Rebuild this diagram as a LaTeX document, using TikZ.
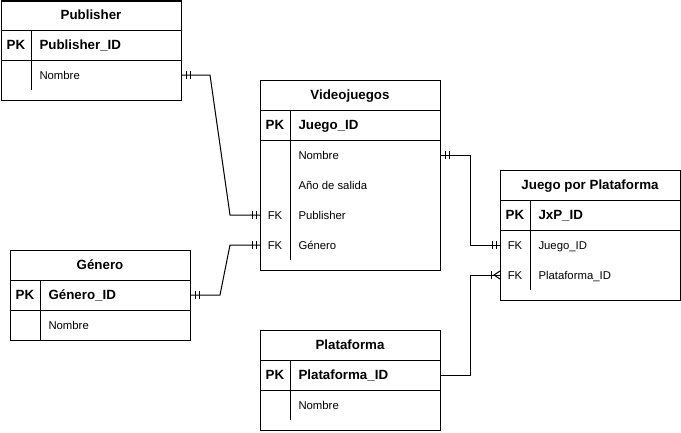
\documentclass[tikz,border=0pt]{standalone}
\usepackage{fontspec}
\setmainfont{Liberation Sans}
\usetikzlibrary{decorations.markings}
\usetikzlibrary{positioning}
\tikzset{tabla/.style = {draw, rectangle, inner sep = 0, anchor = north west}}
\tikzset{txt/.style = {inner sep = 0, text height = 6.2pt, text depth = 0pt}}
\tikzset{titulo/.style = {txt, font = \bfseries}}
\tikzset{clave/.style = {txt}}
\tikzset{campo/.style = {txt, anchor = west}}
\tikzset{campopk/.style = {campo, font = \bfseries}}
\tikzset{unouno/.style = {decoration={markings,
                                      mark=at position 3pt with {\draw (0, -3pt) -- (0, 3pt);},
                                      mark=at position 6pt with {\draw (0, -3pt) -- (0, 3pt);},
                                      mark=at position -3pt with {\draw (0, -3pt) -- (0, 3pt);},
                                      mark=at position -6pt with {\draw (0, -3pt) -- (0, 3pt);}},
                          postaction={decorate}}}
\tikzset{unomuchos/.style = {decoration={markings,
                                         mark=at position 1 with {\draw (-6.75pt, -3pt) -- (-6.75pt, 3pt);
                                                                  \draw (0, -3pt) -- (-4.5pt, 0) -- (0, 3pt);}},
                             postaction={decorate}}}

\begin{document}
\begin{tikzpicture}[x = 0.75pt, y = -0.75pt, line width = 0.75pt, font = \fontsize{8.5pt}{10.5pt}\selectfont]
      \useasboundingbox (0, 0) rectangle (681, 432);

      % Publisher
      \node [tabla, minimum width = 135pt, minimum height = 74.25pt] (publisher) at (1, 0.5) {};
      \draw (1, 30) -- (181, 30);
      \draw (1, 60) -- (181, 60);
      \draw (31, 30) -- (31, 90);
      \node [titulo] (publisher-t) at (91, 15) {Publisher};
      \node [clave, font = \bfseries] (pub-pk) at (16, 45) {PK};
      \node [campopk] (pub-id) at (39, 45) {Publisher\_ID};
      \node [campo] (pub-nombre) at (39, 75) {Nombre};

      % Videojuegos
      \node [tabla, minimum width = 135pt, minimum height = 142.5pt] (videojuegos) at (260, 80) {};
      \draw (260, 110) -- (440, 110);
      \draw (260, 140) -- (440, 140);
      \draw (290, 110) -- (290, 260);
      \node [titulo] (videojuegos-t) at (350, 95) {Videojuegos};
      \node [clave, font = \bfseries] (vj-pk) at (275, 125) {PK};
      \node [campopk] (vj-id) at (298, 125) {Juego\_ID};
      \node [campo] (vj-nombre) at (298, 155) {Nombre};
      \node [campo] (vj-anio) at (298, 185) {Año de salida};
      \node [clave] (vj-fk1) at (275, 215) {FK};
      \node [campo] (vj-publisher) at (298, 215) {Publisher};
      \node [clave] (vj-fk2) at (275, 245) {FK};
      \node [campo] (vj-genero) at (298, 245) {Género};

      % Género
      \node [tabla, minimum width = 135pt, minimum height = 67.5pt] (genero) at (10, 250) {};
      \draw (10, 280) -- (190, 280);
      \draw (10, 310) -- (190, 310);
      \draw (40, 280) -- (40, 340);
      \node [titulo] (genero-t) at (100, 265) {Género};
      \node [clave, font = \bfseries] (gen-pk) at (25, 295) {PK};
      \node [campopk] (gen-id) at (48, 295) {Género\_ID};
      \node [campo] (gen-nombre) at (48, 325) {Nombre};

      % Plataforma
      \node [tabla, minimum width = 135pt, minimum height = 75pt] (plataforma) at (260, 330) {};
      \draw (260, 360) -- (440, 360);
      \draw (260, 390) -- (440, 390);
      \draw (290, 360) -- (290, 420);
      \node [titulo] (plataforma-t) at (350, 345) {Plataforma};
      \node [clave, font = \bfseries] (plat-pk) at (275, 375) {PK};
      \node [campopk] (plat-id) at (298, 375) {Plataforma\_ID};
      \node [campo] (plat-nombre) at (298, 405) {Nombre};

      % Juego por Plataforma
      \node [tabla, minimum width = 135pt, minimum height = 97.5pt] (jxp) at (500, 170) {};
      \draw (500, 200) -- (680, 200);
      \draw (500, 230) -- (680, 230);
      \draw (530, 200) -- (530, 290);
      \node [titulo] (jxp-t) at (590, 185) {Juego por Plataforma};
      \node [clave, font = \bfseries] (jxp-pk) at (515, 215) {PK};
      \node [campopk] (jxp-id) at (538, 215) {JxP\_ID};
      \node [clave] (jxp-fk1) at (515, 245) {FK};
      \node [campo] (jxp-juego) at (538, 245) {Juego\_ID};
      \node [clave] (jxp-fk2) at (515, 275) {FK};
      \node [campo] (jxp-plat) at (538, 275) {Plataforma\_ID};

      % relaciones
      \draw [unouno] (publisher.east |- pub-nombre) -- (210, 75) -- (230, 215) -- (videojuegos.west |- vj-publisher);
      \draw [unouno] (genero.east |- gen-id) -- (220, 295) -- (230, 245) -- (videojuegos.west |- vj-genero);
      \draw [unouno] (videojuegos.east |- vj-nombre) -- (470, 155) -- (470, 245) -- (jxp.west |- jxp-juego);
      \draw [unomuchos] (plataforma.east |- plat-id) -- (470, 375) -- (470, 275) -- (jxp.west |- jxp-plat);
\end{tikzpicture}
\end{document}
